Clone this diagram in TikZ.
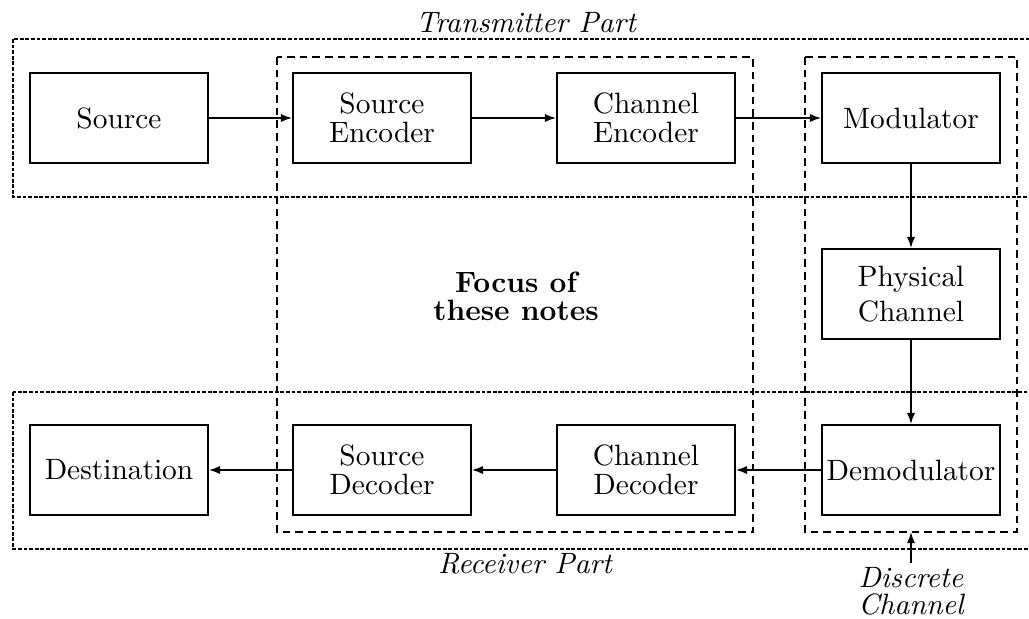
\documentclass[tikz,border=0pt]{standalone}
\usetikzlibrary{arrows.meta}
\begin{document}
\begin{tikzpicture}[x=0.34pt,y=-0.34pt,
  block/.style={draw,line width=0.6pt,minimum width=60.5pt,minimum height=30.6pt,
    inner sep=1pt,align=center,font=\normalsize},
  flow/.style={line width=0.6pt,-{Latex[length=3.8pt,width=2.8pt]}},
  partframe/.style={line width=0.5pt,dash pattern=on 1.3pt off 0.6pt},
  groupframe/.style={line width=0.5pt,dash pattern=on 2.6pt off 1.7pt},
  lbl/.style={font=\itshape,inner sep=0pt}]
\useasboundingbox (0,0) rectangle (1029,619);
\clip (0,0) rectangle (1029,619);

% transmitter and receiver parts (open to the right)
\draw[partframe] (13,39) rectangle (1045,197);
\draw[partframe] (13,392) rectangle (1045,549);

% grouping frames
\coordinate (fa) at (277,57);  \coordinate (fb) at (753,532);
\coordinate (da) at (805,57);  \coordinate (db) at (1017,532);
\draw[groupframe] (fa) rectangle (fb);
\draw[groupframe] (da) rectangle (db);

% blocks
\node[block] (src)  at (119,118) {Source};
\node[block] (senc) at (382,118) {Source\\[-2pt]Encoder};
\node[block] (cenc) at (646,118) {Channel\\[-2pt]Encoder};
\node[block] (mod)  at (911,118) {Modulator};
\node[block] (phy)  at (911,294) {Physical\\Channel};
\node[block] (dem)  at (911,470) {Demodulator};
\node[block] (cdec) at (646,470) {Channel\\[-2pt]Decoder};
\node[block] (sdec) at (382,470) {Source\\[-2pt]Decoder};
\node[block] (dst)  at (119,470) {Destination};

% connectors
\draw[flow] (src) -- (senc);
\draw[flow] (senc) -- (cenc);
\draw[flow] (cenc) -- (mod);
\draw[flow] (mod) -- (phy);
\draw[flow] (phy) -- (dem);
\draw[flow] (dem) -- (cdec);
\draw[flow] (cdec) -- (sdec);
\draw[flow] (sdec) -- (dst);

% labels
\node[lbl,anchor=base] (tx) at (526,33) {Transmitter Part};
\node[lbl,anchor=base] (rx) at (525,573) {Receiver Part};
\node[font=\bfseries,align=center,inner sep=0pt] (focus) at (516,296) {Focus of\\[-2.5pt]these notes};
\node[lbl,align=center,anchor=north] (dc) at (911,567) {Discrete\\[-3pt]Channel};
\coordinate (dcb) at (911,532);
\draw[flow] ([yshift=1.2pt]dc.north) -- (dcb);
\end{tikzpicture}
\end{document}
